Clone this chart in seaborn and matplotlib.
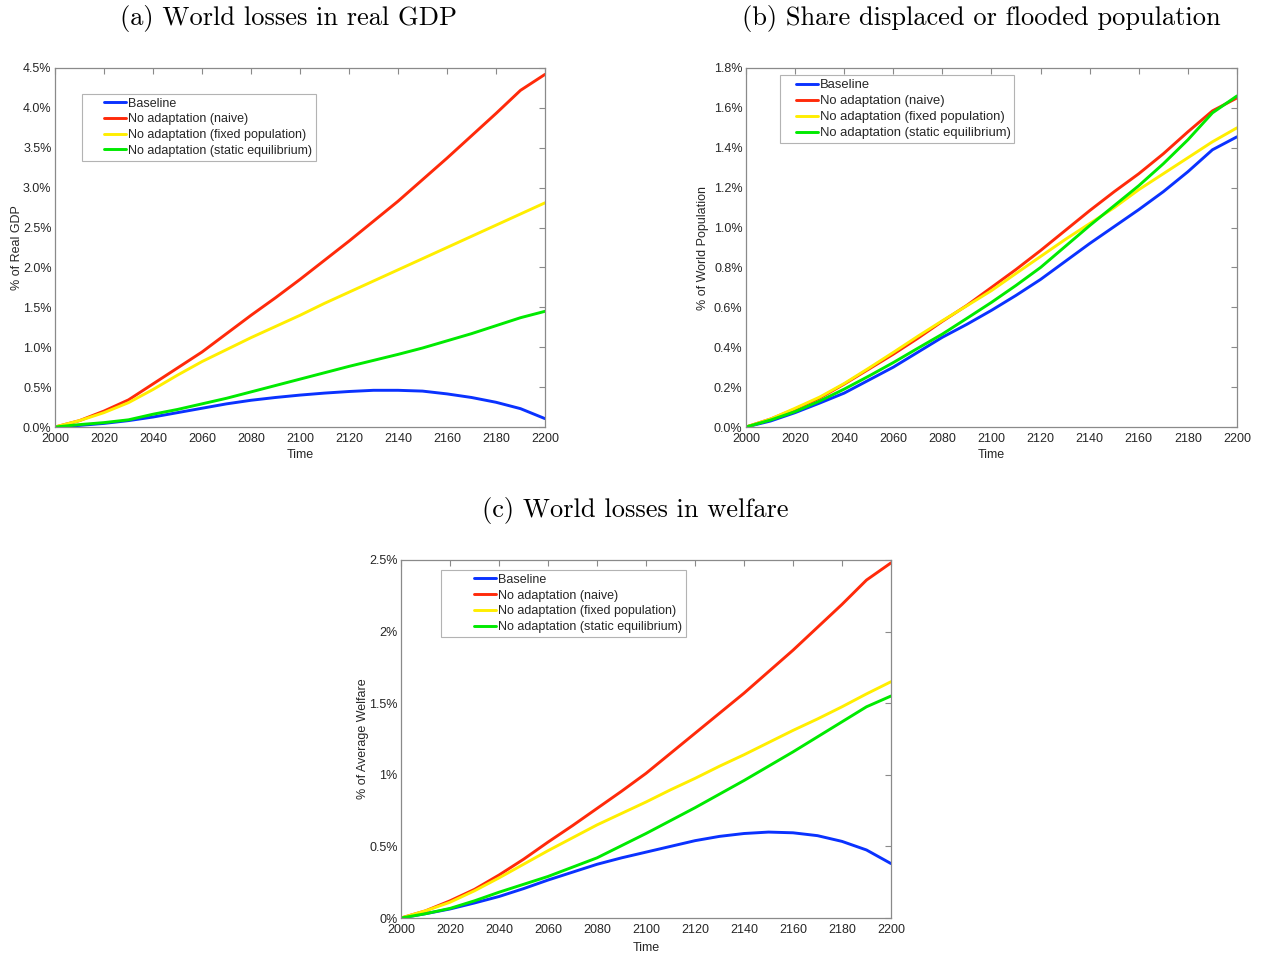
import numpy as np
import pandas as pd
import matplotlib
matplotlib.use("Agg")
import matplotlib.pyplot as plt
from matplotlib.legend_handler import HandlerLine2D
from matplotlib.lines import Line2D
import seaborn as sns

# ---------------------------------------------------------------- data
years = list(range(2000, 2201, 10))
series_names = ["Baseline", "No adaptation (naive)",
                "No adaptation (fixed population)", "No adaptation (static equilibrium)"]
series_colors = ["#0a32ff", "#ff2a0a", "#ffee00", "#00ea00"]

# (a) world losses in real GDP, % of real GDP
gdp_baseline = [0, 0.02, 0.045, 0.08, 0.125, 0.18, 0.235, 0.29, 0.335, 0.37, 0.40,
                0.425, 0.445, 0.46, 0.46, 0.45, 0.415, 0.37, 0.31, 0.23, 0.105]
gdp_naive = [0, 0.08, 0.2, 0.34, 0.54, 0.74, 0.94, 1.17, 1.40, 1.62, 1.85,
             2.09, 2.33, 2.58, 2.83, 3.10, 3.37, 3.65, 3.93, 4.22, 4.42]
gdp_fixed = [0, 0.08, 0.18, 0.305, 0.47, 0.65, 0.82, 0.97, 1.12, 1.26, 1.40,
             1.55, 1.69, 1.83, 1.97, 2.11, 2.25, 2.39, 2.53, 2.67, 2.81]
gdp_static = [0, 0.03, 0.055, 0.09, 0.16, 0.22, 0.29, 0.36, 0.44, 0.52, 0.60,
              0.68, 0.76, 0.835, 0.91, 0.99, 1.08, 1.17, 1.27, 1.37, 1.45]

# (b) share displaced or flooded population, % of world population
pop_baseline = [0, 0.03, 0.072, 0.12, 0.17, 0.235, 0.30, 0.375, 0.45, 0.515, 0.585,
                0.66, 0.74, 0.83, 0.92, 1.005, 1.09, 1.18, 1.28, 1.39, 1.455]
pop_naive = [0, 0.04, 0.09, 0.145, 0.215, 0.29, 0.365, 0.445, 0.53, 0.61, 0.70,
             0.79, 0.885, 0.985, 1.085, 1.18, 1.27, 1.37, 1.48, 1.585, 1.65]
pop_fixed = [0, 0.04, 0.094, 0.15, 0.218, 0.295, 0.374, 0.455, 0.533, 0.608, 0.684,
             0.77, 0.855, 0.94, 1.02, 1.10, 1.19, 1.27, 1.35, 1.43, 1.50]
pop_static = [0, 0.035, 0.077, 0.13, 0.19, 0.255, 0.323, 0.395, 0.466, 0.545, 0.625,
              0.71, 0.80, 0.905, 1.01, 1.11, 1.21, 1.32, 1.44, 1.575, 1.66]

# (c) world losses in welfare, % of average welfare
wel_baseline = [0, 0.03, 0.063, 0.105, 0.15, 0.205, 0.265, 0.32, 0.375, 0.42, 0.46,
                0.50, 0.54, 0.57, 0.59, 0.60, 0.595, 0.575, 0.535, 0.475, 0.38]
wel_naive = [0, 0.05, 0.12, 0.20, 0.30, 0.41, 0.53, 0.645, 0.765, 0.885, 1.01,
             1.15, 1.29, 1.43, 1.57, 1.72, 1.87, 2.03, 2.19, 2.36, 2.48]
wel_fixed = [0, 0.05, 0.11, 0.19, 0.28, 0.375, 0.47, 0.56, 0.65, 0.73, 0.81,
             0.895, 0.975, 1.06, 1.14, 1.225, 1.31, 1.39, 1.475, 1.565, 1.65]
wel_static = [0, 0.03, 0.067, 0.12, 0.18, 0.235, 0.29, 0.355, 0.42, 0.505, 0.59,
              0.68, 0.77, 0.865, 0.96, 1.06, 1.16, 1.265, 1.37, 1.475, 1.55]

x_ticks = list(range(2000, 2201, 20))
gdp_ticks = [0, 0.5, 1.0, 1.5, 2.0, 2.5, 3.0, 3.5, 4.0, 4.5]
gdp_ticklabels = ["0.0%", "0.5%", "1.0%", "1.5%", "2.0%", "2.5%", "3.0%", "3.5%", "4.0%", "4.5%"]
pop_ticks = [0, 0.2, 0.4, 0.6, 0.8, 1.0, 1.2, 1.4, 1.6, 1.8]
pop_ticklabels = ["0.0%", "0.2%", "0.4%", "0.6%", "0.8%", "1.0%", "1.2%", "1.4%", "1.6%", "1.8%"]
wel_ticks = [0, 0.5, 1.0, 1.5, 2.0, 2.5]
wel_ticklabels = ["0%", "0.5%", "1%", "1.5%", "2%", "2.5%"]

titles = ["(a) World losses in real GDP", "(b) Share displaced or flooded population",
          "(c) World losses in welfare"]
ylabels = ["% of Real GDP", "% of World Population", "% of Average Welfare"]

# ---------------------------------------------------------------- style
sns.set_style("white")
plt.rcParams["font.family"] = ["Liberation Sans", "DejaVu Sans"]
plt.rcParams["font.size"] = 9

TICK_COLOR = "#262626"
SPINE_COLOR = "#8a8a8a"


class ShortLineHandler(HandlerLine2D):
    """Legend line drawn only over the right part of the handle box."""

    def __init__(self, line_len, **kw):
        super().__init__(**kw)
        self.line_len = line_len

    def get_xdata(self, legend, xdescent, ydescent, width, height, fontsize):
        x1 = -xdescent + width
        x0 = x1 - self.line_len * fontsize
        xd = np.array([x0, x1])
        return xd, xd


def long_frame(values_list):
    rows = []
    for name, vals in zip(series_names, values_list):
        for yr, v in zip(years, vals):
            rows.append({"Time": yr, "value": v, "series": name})
    return pd.DataFrame(rows)


def draw_panel(ax, values_list, ticks, ticklabels, ymax, ylabel, leg_anchor, handlelen,
               ylab_x, xlab_y, leg_fs=9):
    df = long_frame(values_list)
    sns.lineplot(data=df, x="Time", y="value", hue="series", hue_order=series_names,
                 palette=series_colors, linewidth=2.1, ax=ax, legend=False)
    ax.set_xlim(2000, 2200)
    ax.set_ylim(0, ymax)
    ax.set_xticks(x_ticks)
    ax.set_xticklabels([str(t) for t in x_ticks])
    ax.set_yticks(ticks)
    ax.set_yticklabels(ticklabels)
    ax.tick_params(direction="in", length=4.5, width=0.8, color=SPINE_COLOR,
                   labelcolor=TICK_COLOR, labelsize=9, top=True, right=True)
    ax.tick_params(axis="x", pad=4.5)
    ax.tick_params(axis="y", pad=2.5)
    for sp in ax.spines.values():
        sp.set_visible(True)
        sp.set_color(SPINE_COLOR)
        sp.set_linewidth(0.9)
    ax.set_xlabel("Time", fontsize=9, color=TICK_COLOR)
    ax.set_ylabel(ylabel, fontsize=9, color=TICK_COLOR)
    ax.xaxis.set_label_coords(0.5, xlab_y)
    ax.yaxis.set_label_coords(ylab_x, 0.5)

    handles = [Line2D([], [], color=c, lw=2.1) for c in series_colors]
    leg = ax.legend(handles, series_names, loc="upper left", bbox_to_anchor=leg_anchor,
                    borderaxespad=0, frameon=True, fancybox=False, fontsize=leg_fs,
                    handlelength=handlelen, handletextpad=0.15, labelspacing=0.3,
                    borderpad=0.3,
                    handler_map={Line2D: ShortLineHandler(1.76 * 9 / leg_fs)})
    leg.get_frame().set_edgecolor("#a0a0a0")
    leg.get_frame().set_linewidth(0.8)
    for t in leg.get_texts():
        t.set_color(TICK_COLOR)


fig = plt.figure(figsize=(12.62, 9.55), dpi=100)
fig.patch.set_facecolor("white")

ax_a = fig.add_axes([55 / 1262, 1 - 427 / 955, 490 / 1262, 359 / 955])
ax_b = fig.add_axes([746 / 1262, 1 - 427 / 955, 491 / 1262, 359 / 955])
ax_c = fig.add_axes([401 / 1262, 1 - 918 / 955, 490 / 1262, 358 / 955])

draw_panel(ax_a, [gdp_baseline, gdp_naive, gdp_fixed, gdp_static],
           gdp_ticks, gdp_ticklabels, 4.5, ylabels[0], (0.055, 0.928), 3.25,
           -0.065, -0.062)
draw_panel(ax_b, [pop_baseline, pop_naive, pop_fixed, pop_static],
           pop_ticks, pop_ticklabels, 1.8, ylabels[1], (0.069, 0.98), 2.6,
           -0.075, -0.062, leg_fs=9.4)
draw_panel(ax_c, [wel_baseline, wel_naive, wel_fixed, wel_static],
           wel_ticks, wel_ticklabels, 2.5, ylabels[2], (0.0816, 0.972), 4.1,
           -0.066, -0.067)

title_kw = dict(fontfamily="cmr10", fontsize=19, ha="center", va="center", color="black")
fig.text(289 / 1262, 1 - 18 / 955, titles[0], **title_kw)
fig.text(981 / 1262, 1 - 18 / 955, titles[1], **title_kw)
fig.text(635 / 1262, 1 - 510 / 955, titles[2], **title_kw)

fig.savefig("out.png", dpi=100, facecolor="white")
